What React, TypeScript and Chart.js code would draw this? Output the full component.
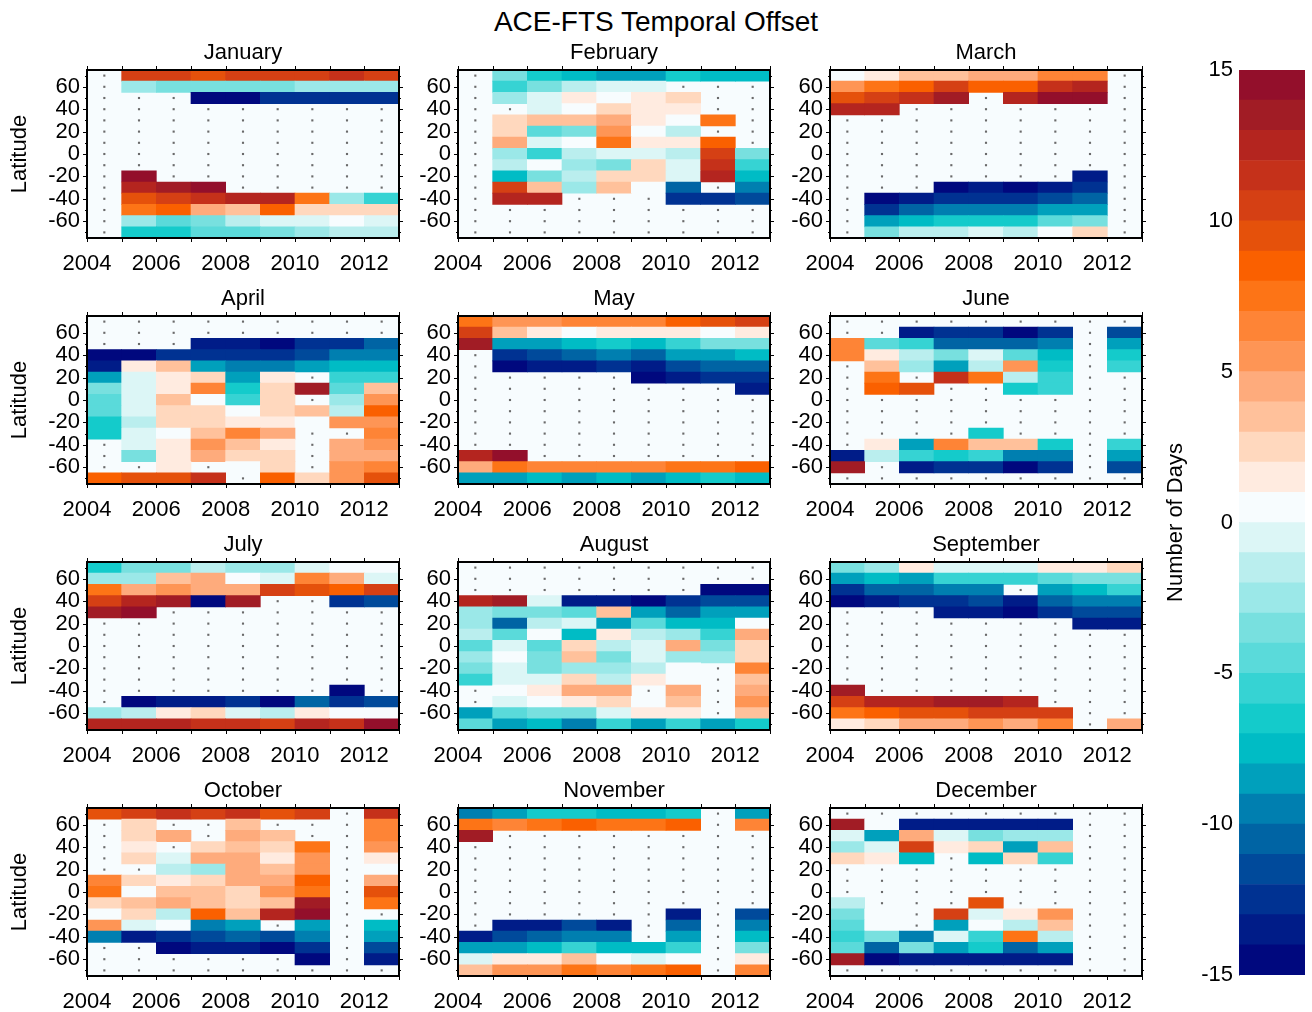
import React, { useEffect, useRef } from 'react';
import { Chart, registerables } from 'chart.js';

Chart.register(...registerables);
Chart.defaults.font.family = "'Liberation Sans', Arial, sans-serif";
Chart.defaults.color = '#000';

const N = null;

const years = [2004, 2005, 2006, 2007, 2008, 2009, 2010, 2011, 2012];
const latitudes = [70, 60, 50, 40, 30, 20, 10, 0, -10, -20, -30, -40, -50, -60, -70];
const xTickValues = [2004, 2006, 2008, 2010, 2012];
const yTickValues = [-60, -40, -20, 0, 20, 40, 60];
const colorbarTickValues = [-15, -10, -5, 0, 5, 10, 15];
const monthNames = ['January', 'February', 'March', 'April', 'May', 'June', 'July', 'August', 'September', 'October', 'November', 'December'];

// lower bound of each 1-day colour band
const colorLevels = [-15, -14, -13, -12, -11, -10, -9, -8, -7, -6, -5, -4, -3, -2, -1, 0, 1, 2, 3, 4, 5, 6, 7, 8, 9, 10, 11, 12, 13, 14];
const levelColors = [
  '#00087e', '#001c88', '#003292', '#004a9b', '#0064a4', '#007fb0', '#00a0bc', '#00bcc5', '#14cbcb', '#36d3d3',
  '#5adada', '#78e0df', '#9be8e8', '#baeeee', '#dcf6f6', '#f7fcfe', '#ffebe0', '#ffd8be', '#ffc19b', '#feab7c',
  '#fe9555', '#fe8436', '#fd7416', '#fa6000', '#e5510b', '#d54014', '#c5311a', '#b4251f', '#a11c25', '#930f2b',
];

// rows: latitudes 70 .. -70, columns: years 2004 .. 2012 (values in days)
const january = [
  [N, 10, 10, 9, 10, 10, 10, 11, 10],
  [N, -3, -4, -4, -4, -4, -3, -3, -3],
  [N, N, N, -15, -15, -13, -13, -13, -13],
  [N, N, N, N, N, N, N, N, N],
  [N, N, N, N, N, N, N, N, N],
  [N, N, N, N, N, N, N, N, N],
  [N, N, N, N, N, N, N, N, N],
  [N, N, N, N, N, N, N, N, N],
  [N, N, N, N, N, N, N, N, N],
  [N, 14, N, N, N, N, N, N, N],
  [N, 12, 13, 14, N, N, N, N, N],
  [N, 9, 10, 11, 12, 12, 7, -3, -6],
  [N, 7, 8, 4, 3, 8, 2, 2, 2],
  [N, -3, -5, -4, -2, -1, -1, 0, -1],
  [N, -7, -7, -5, -5, -4, -3, -2, -2],
];
const february = [
  [N, -4, -7, -8, -9, -9, -7, -8, -8],
  [N, -6, -4, -2, -1, -1, N, N, N],
  [N, -3, -1, 1, 0, 1, 2, N, N],
  [N, N, -1, 0, 2, 1, 1, N, N],
  [N, 2, 3, 3, 4, 1, 0, 7, N],
  [N, 2, -5, -4, 5, 0, -2, N, N],
  [N, 4, -1, 0, 7, 1, 1, 8, N],
  [N, -3, -6, -2, -1, -1, -2, 10, -4],
  [N, -2, 0, -3, -4, 2, -1, 11, -6],
  [N, -8, -4, -2, 2, 2, -1, 12, -8],
  [N, 10, 3, -3, 3, 0, -11, N, -10],
  [N, 12, 12, N, N, N, -13, -13, -12],
  [N, N, N, N, N, N, N, N, N],
  [N, N, N, N, N, N, N, N, N],
  [N, N, N, N, N, N, N, N, N],
];
const march = [
  [0, 1, 3, 3, 4, 4, 6, 6, N],
  [5, 7, 8, 10, 8, 8, 11, 12, N],
  [9, 10, 11, 13, N, 12, 14, 14, N],
  [12, 12, N, N, N, N, N, N, N],
  [N, N, N, N, N, N, N, N, N],
  [N, N, N, N, N, N, N, N, N],
  [N, N, N, N, N, N, N, N, N],
  [N, N, N, N, N, N, N, N, N],
  [N, N, N, N, N, N, N, N, N],
  [N, N, N, N, N, N, N, -14, N],
  [N, N, N, -15, -14, -15, -14, -13, N],
  [N, -15, -14, -13, -13, -13, -12, -11, N],
  [N, -13, -11, -10, -10, -10, -9, -9, N],
  [N, -9, -8, -7, -7, -7, -5, -4, N],
  [N, -4, -2, -2, -1, -2, 0, 2, N],
];
const april = [
  [N, N, N, N, N, N, N, N, N],
  [N, N, N, N, N, N, N, N, N],
  [N, N, N, -14, -14, -15, -13, -13, -11],
  [-15, -15, -13, -13, -13, -13, -12, -10, -10],
  [-14, 1, 3, -9, -10, -10, -9, -8, -8],
  [-9, -1, 1, 2, -9, 1, N, -6, -6],
  [-4, -1, 1, 6, -7, 2, 13, -5, 3],
  [-5, -1, 3, 0, -6, 2, N, -3, 5],
  [-5, -1, 2, 2, 0, 2, 3, -2, 8],
  [-7, -2, 2, 2, 1, 1, 0, 5, 5],
  [-7, -1, 0, 3, 6, 4, N, N, 6],
  [N, -1, 1, 5, 3, 1, N, 4, 5],
  [N, -4, 1, 4, 2, 2, N, 4, 4],
  [N, N, 1, N, 0, 2, N, 5, 6],
  [8, 9, 9, 11, N, 8, 2, 5, 9],
];
const may = [
  [7, 5, 5, 6, 6, 6, 8, 9, 10],
  [10, 3, 1, 0, 1, 1, 1, 0, 1],
  [13, -9, -9, -8, -7, -8, -6, -4, -4],
  [N, -13, -12, -11, -10, -11, -9, -9, -8],
  [N, -15, -14, -14, -13, -14, -12, -11, -11],
  [N, N, N, N, N, -15, -14, -13, -13],
  [N, N, N, N, N, N, N, N, -14],
  [N, N, N, N, N, N, N, N, N],
  [N, N, N, N, N, N, N, N, N],
  [N, N, N, N, N, N, N, N, N],
  [N, N, N, N, N, N, N, N, N],
  [N, N, N, N, N, N, N, N, N],
  [12, 14, N, N, N, N, N, N, N],
  [4, 7, 6, 6, 6, 6, 7, 7, 8],
  [-9, -9, -8, -9, -8, -9, -8, -7, -8],
];
const june = [
  [N, N, N, N, N, N, N, N, N],
  [N, N, -14, -13, -13, -15, -13, N, -12],
  [6, -5, -6, -11, -11, -11, -10, N, -9],
  [6, 1, -2, -4, -1, -5, -8, N, -7],
  [N, 3, -3, -9, -2, 5, -7, N, -6],
  [N, 7, N, 11, 7, -2, -6, N, N],
  [N, 8, 9, N, N, -7, -6, N, N],
  [N, N, N, N, N, N, N, N, N],
  [N, N, N, N, N, N, N, N, N],
  [N, N, N, N, N, N, N, N, N],
  [N, N, N, N, -7, N, N, N, N],
  [N, 1, -9, 6, 3, 3, -7, N, -6],
  [-14, -2, -6, -7, -6, -10, -10, N, -9],
  [13, N, -14, -13, -13, -15, -13, N, -12],
  [N, N, N, N, N, N, N, N, N],
];
const july = [
  [-7, -4, -4, -2, -3, -3, -1, 0, 0],
  [-3, -3, 3, 4, 0, -1, 6, 4, -1],
  [7, 4, 5, 4, 4, 10, 9, 8, 10],
  [10, 12, 13, -15, 13, N, N, -13, -12],
  [13, 14, N, N, N, N, N, N, N],
  [N, N, N, N, N, N, N, N, N],
  [N, N, N, N, N, N, N, N, N],
  [N, N, N, N, N, N, N, N, N],
  [N, N, N, N, N, N, N, N, N],
  [N, N, N, N, N, N, N, N, N],
  [N, N, N, N, N, N, N, N, N],
  [N, N, N, N, N, N, N, -15, N],
  [N, -15, -14, -14, -13, -15, -11, -13, -12],
  [-3, -2, 1, 2, -1, -2, 1, 0, 0],
  [12, 12, 12, 11, 11, 10, 12, 11, 14],
];
const august = [
  [N, N, N, N, N, N, N, N, N],
  [N, N, N, N, N, N, N, N, N],
  [N, N, N, N, N, N, N, -15, -15],
  [12, 13, -1, -14, -14, -15, -13, -12, -12],
  [-3, -4, -4, -5, 3, -9, -11, -9, -9],
  [-3, -11, -2, -1, -9, -5, -8, -8, 0],
  [-2, -5, 0, -8, 1, -2, -3, -6, 4],
  [-5, -1, -5, 2, -2, -1, 4, -4, 2],
  [-3, 0, -4, 3, -4, -1, -3, -3, 2],
  [-4, -1, -4, -3, -3, -2, 0, N, 6],
  [-6, -1, -1, 2, -2, 1, 0, N, 3],
  [N, 0, 1, 4, 4, N, 4, N, 4],
  [N, -1, 0, 1, 2, 0, 3, N, 5],
  [-9, -5, -4, -4, -1, 1, 1, N, 3],
  [-5, -9, -8, -10, -6, -9, -6, -9, -7],
];
const september = [
  [-4, -3, 1, -1, -1, -1, 1, 1, 2],
  [-9, -8, -9, -6, -6, -6, -5, -4, -4],
  [-13, -11, -11, -10, -10, N, -9, -8, -6],
  [-15, -14, -13, -13, -12, -14, -11, -10, -10],
  [N, N, N, -14, -14, -15, -13, -12, -12],
  [N, N, N, N, N, N, N, -14, -14],
  [N, N, N, N, N, N, N, N, N],
  [N, N, N, N, N, N, N, N, N],
  [N, N, N, N, N, N, N, N, N],
  [N, N, N, N, N, N, N, N, N],
  [N, N, N, N, N, N, N, N, N],
  [13, N, N, N, N, N, N, N, N],
  [10, 12, 12, 13, 13, 12, N, N, N],
  [7, 8, 9, 9, 10, 10, 10, N, N],
  [1, 2, 4, 4, 5, 4, 6, N, 4],
];
const october = [
  [9, 10, 11, 10, 11, 9, 10, N, 11],
  [N, 2, N, N, 3, N, N, N, 6],
  [N, 2, 4, N, 4, 3, N, N, 6],
  [N, 1, N, 2, 3, 2, 7, N, 5],
  [N, 2, -1, 4, 4, 1, 5, N, 1],
  [N, N, -2, -3, 4, 3, 5, N, 0],
  [6, 2, 1, 2, 4, 4, 8, N, 4],
  [7, 0, 3, 3, 2, 5, 7, N, 9],
  [2, 3, 4, 3, 2, 3, 13, N, 7],
  [0, 2, -2, 8, 3, 12, 14, N, N],
  [5, -1, 0, -10, -9, N, -9, N, -8],
  [-10, -14, -13, -12, -11, -12, -10, N, -9],
  [N, N, -15, -14, -14, -15, -13, N, -12],
  [N, N, N, N, N, N, -15, N, -14],
  [N, N, N, N, N, N, N, N, N],
];
const november = [
  [-10, -9, -7, -7, -8, -8, -7, N, -9],
  [7, 6, 7, 8, 7, 7, 8, N, 6],
  [13, N, N, N, N, N, N, N, N],
  [N, N, N, N, N, N, N, N, N],
  [N, N, N, N, N, N, N, N, N],
  [N, N, N, N, N, N, N, N, N],
  [N, N, N, N, N, N, N, N, N],
  [N, N, N, N, N, N, N, N, N],
  [N, N, N, N, N, N, N, N, N],
  [N, N, N, N, N, N, -14, N, -12],
  [N, -14, -14, -12, -14, N, -11, N, -10],
  [-14, -12, -11, -10, -10, N, -9, N, -8],
  [-9, -9, -8, -6, -8, -8, -6, N, -4],
  [-1, 1, 1, 3, 0, -1, 0, N, 1],
  [3, 5, 5, 7, 6, 7, 8, N, 6],
];
const december = [
  [N, N, N, N, N, N, N, N, N],
  [13, 0, -14, -14, -14, -14, -14, N, N],
  [-1, -9, 4, -1, -4, -3, -3, N, N],
  [-3, -1, 10, 1, 2, -9, 3, N, N],
  [2, 1, -8, N, -8, 2, -6, N, N],
  [N, N, N, N, N, N, N, N, N],
  [N, N, N, N, N, N, N, N, N],
  [N, N, N, N, N, N, N, N, N],
  [-2, N, N, N, 9, N, N, N, N],
  [-4, 0, N, 10, -1, 1, 5, N, N],
  [-5, 0, N, -9, 0, -2, 3, N, N],
  [-6, -4, -10, -1, -6, 7, -2, N, N],
  [-5, -11, -4, -9, -7, -11, -9, N, N],
  [13, -15, -14, -14, -14, -14, -14, N, N],
  [N, N, N, N, N, N, N, N, N],
];

const monthData = [january, february, march, april, may, june, july, august, september, october, november, december];

const FONT_SIZE = 22;
const PLOT_W = 312;
const PLOT_H = 168;
const COL_LEFT = [87, 458, 830];
const ROW_TOP = [70, 316, 562, 808];
const SIDE_W = 87;
const TOP_SPACE = 40;
const X_AXIS_H = 42;
const NODATA_BG = '#f7fcfe';

function colorFor(v: number): string {
  let i = Math.floor(v) + 15;
  if (i < 0) i = 0;
  if (i > 29) i = 29;
  return levelColors[i];
}

const framePlugin = {
  id: 'frame',
  beforeDatasetsDraw(chart: any) {
    const { ctx, chartArea: a } = chart;
    ctx.save();
    ctx.fillStyle = NODATA_BG;
    ctx.fillRect(a.left, a.top, a.right - a.left, a.bottom - a.top);
    ctx.restore();
  },
  afterDatasetsDraw(chart: any) {
    const { ctx, chartArea: a, scales } = chart;
    const xs = scales.x;
    const ys = scales.y;
    ctx.save();
    ctx.strokeStyle = '#000';
    ctx.lineWidth = 1;
    ctx.beginPath();
    for (let yr = 2004; yr <= 2013; yr++) {
      const px = Math.round(xs.getPixelForValue(yr)) + 0.5;
      ctx.moveTo(px, a.top); ctx.lineTo(px, a.top - 4);
      ctx.moveTo(px, a.bottom); ctx.lineTo(px, a.bottom + 4);
    }
    for (let lat = -70; lat <= 70; lat += 10) {
      const py = Math.round(ys.getPixelForValue(lat)) + 0.5;
      const len = lat % 20 === 0 ? 4 : 2;
      ctx.moveTo(a.left, py); ctx.lineTo(a.left - len, py);
      ctx.moveTo(a.right, py); ctx.lineTo(a.right + len, py);
    }
    ctx.stroke();
    ctx.lineWidth = 2;
    ctx.strokeRect(a.left, a.top, a.right - a.left, a.bottom - a.top);
    ctx.restore();
  },
};

function Panel(props: { title: string; data: (number | null)[][]; left: number; top: number; showYTitle: boolean }) {
  const ref = useRef<HTMLCanvasElement>(null);
  const { title, data, showYTitle } = props;
  const width = SIDE_W + PLOT_W + SIDE_W;
  const height = TOP_SPACE + PLOT_H + X_AXIS_H;
  useEffect(() => {
    const cells: any[] = [];
    const colors: string[] = [];
    const dots: any[] = [];
    latitudes.forEach((lat, r) => {
      years.forEach((yr, c) => {
        const v = data[r][c];
        if (v === null || v === undefined) {
          dots.push({ x: yr + 0.5, y: lat });
        } else {
          cells.push({ x: yr + 0.5, y: [lat - 5, lat + 5] });
          colors.push(colorFor(v));
        }
      });
    });
    const titleH = FONT_SIZE * 1.2 + 4;
    const chart = new Chart(ref.current as HTMLCanvasElement, {
      type: 'bar',
      data: {
        datasets: [
          {
            type: 'bar',
            data: cells,
            backgroundColor: colors,
            borderWidth: 0,
            barPercentage: 1,
            categoryPercentage: 1,
            grouped: false,
            order: 1,
          } as any,
          {
            type: 'scatter',
            data: dots,
            pointStyle: 'rect',
            pointRadius: 1.5,
            backgroundColor: '#6a6a6a',
            borderWidth: 0,
            order: 2,
          } as any,
        ],
      },
      options: {
        responsive: false,
        animation: false,
        devicePixelRatio: 1,
        events: [],
        layout: { padding: { top: TOP_SPACE - titleH, right: 0, left: 0, bottom: 0 } },
        plugins: {
          legend: { display: false },
          tooltip: { enabled: false },
          title: {
            display: true,
            text: title,
            color: '#000',
            font: { size: FONT_SIZE, weight: 'normal' as any },
            padding: { top: 0, bottom: 4 },
          },
        },
        scales: {
          x: {
            type: 'linear',
            min: 2004,
            max: 2013,
            offset: false,
            grid: { display: false, offset: false, drawTicks: false, tickLength: 0 },
            border: { display: false },
            ticks: {
              padding: 13,
              color: '#000',
              font: { size: FONT_SIZE },
              maxRotation: 0,
              autoSkip: false,
              callback: (v: any) => String(v),
            },
            afterBuildTicks: (s: any) => { s.ticks = xTickValues.map((v) => ({ value: v })); },
            afterFit: (s: any) => { s.height = X_AXIS_H; },
          },
          y: {
            type: 'linear',
            position: 'left',
            min: -75,
            max: 75,
            grid: { display: false, drawTicks: false, tickLength: 0 },
            border: { display: false },
            ticks: {
              padding: 7,
              color: '#000',
              font: { size: FONT_SIZE },
              autoSkip: false,
              callback: (v: any) => String(v),
            },
            title: {
              display: showYTitle,
              text: 'Latitude',
              color: '#000',
              font: { size: FONT_SIZE },
              padding: { top: 7, bottom: 0 },
            },
            afterBuildTicks: (s: any) => { s.ticks = yTickValues.map((v) => ({ value: v })); },
            afterFit: (s: any) => { s.width = SIDE_W; },
          },
          yRight: {
            type: 'linear',
            position: 'right',
            min: -75,
            max: 75,
            grid: { display: false, drawTicks: false, tickLength: 0 },
            border: { display: false },
            ticks: { display: false },
            afterFit: (s: any) => { s.width = SIDE_W; },
          },
        },
      } as any,
      plugins: [framePlugin],
    });
    return () => chart.destroy();
  }, []);
  return (
    <canvas
      ref={ref}
      width={width}
      height={height}
      style={{ position: 'absolute', left: props.left - SIDE_W, top: props.top - TOP_SPACE, width, height }}
    />
  );
}

function ColorBar() {
  const ref = useRef<HTMLCanvasElement>(null);
  const left = 1140;
  const top = 40;
  const width = 172;
  const height = 960;
  useEffect(() => {
    const chart = new Chart(ref.current as HTMLCanvasElement, {
      type: 'bar',
      data: {
        labels: [''],
        datasets: colorLevels.map((lv, i) => ({
          data: [[lv, lv + 1]],
          backgroundColor: levelColors[i],
          borderWidth: 0,
          barPercentage: 1,
          categoryPercentage: 1,
          grouped: false,
        })) as any,
      },
      options: {
        responsive: false,
        animation: false,
        devicePixelRatio: 1,
        events: [],
        layout: { padding: { top: 30, right: 7, bottom: 25, left: 0 } },
        plugins: { legend: { display: false }, tooltip: { enabled: false }, title: { display: false } },
        scales: {
          x: { display: false },
          y: {
            type: 'linear',
            min: -15,
            max: 15,
            grid: { display: false, drawTicks: false, tickLength: 0 },
            border: { display: true, color: '#8c8c8c', width: 1 },
            ticks: {
              padding: 6,
              color: '#000',
              font: { size: FONT_SIZE },
              autoSkip: false,
              callback: (v: any) => String(v),
            },
            title: {
              display: true,
              text: 'Number of Days',
              color: '#000',
              font: { size: FONT_SIZE },
              padding: { top: 23, bottom: 0 },
            },
            afterBuildTicks: (s: any) => { s.ticks = colorbarTickValues.map((v) => ({ value: v })); },
            afterFit: (s: any) => { s.width = 99; },
          },
        },
      } as any,
    });
    return () => chart.destroy();
  }, []);
  return (
    <canvas ref={ref} width={width} height={height} style={{ position: 'absolute', left, top, width, height }} />
  );
}

export default function App() {
  return (
    <div style={{ position: 'absolute', left: 0, top: 0, width: 1312, height: 1012, background: '#fff', overflow: 'hidden' }}>
      <div
        style={{
          position: 'absolute',
          left: 0,
          top: 5,
          width: 1312,
          textAlign: 'center',
          fontFamily: "'Liberation Sans', Arial, sans-serif",
          fontSize: 28,
          lineHeight: '34px',
          color: '#000',
        }}
      >
        ACE-FTS Temporal Offset
      </div>
      {monthNames.map((name, i) => (
        <Panel
          key={name}
          title={name}
          data={monthData[i]}
          left={COL_LEFT[i % 3]}
          top={ROW_TOP[Math.floor(i / 3)]}
          showYTitle={i % 3 === 0}
        />
      ))}
      <ColorBar />
    </div>
  );
}
